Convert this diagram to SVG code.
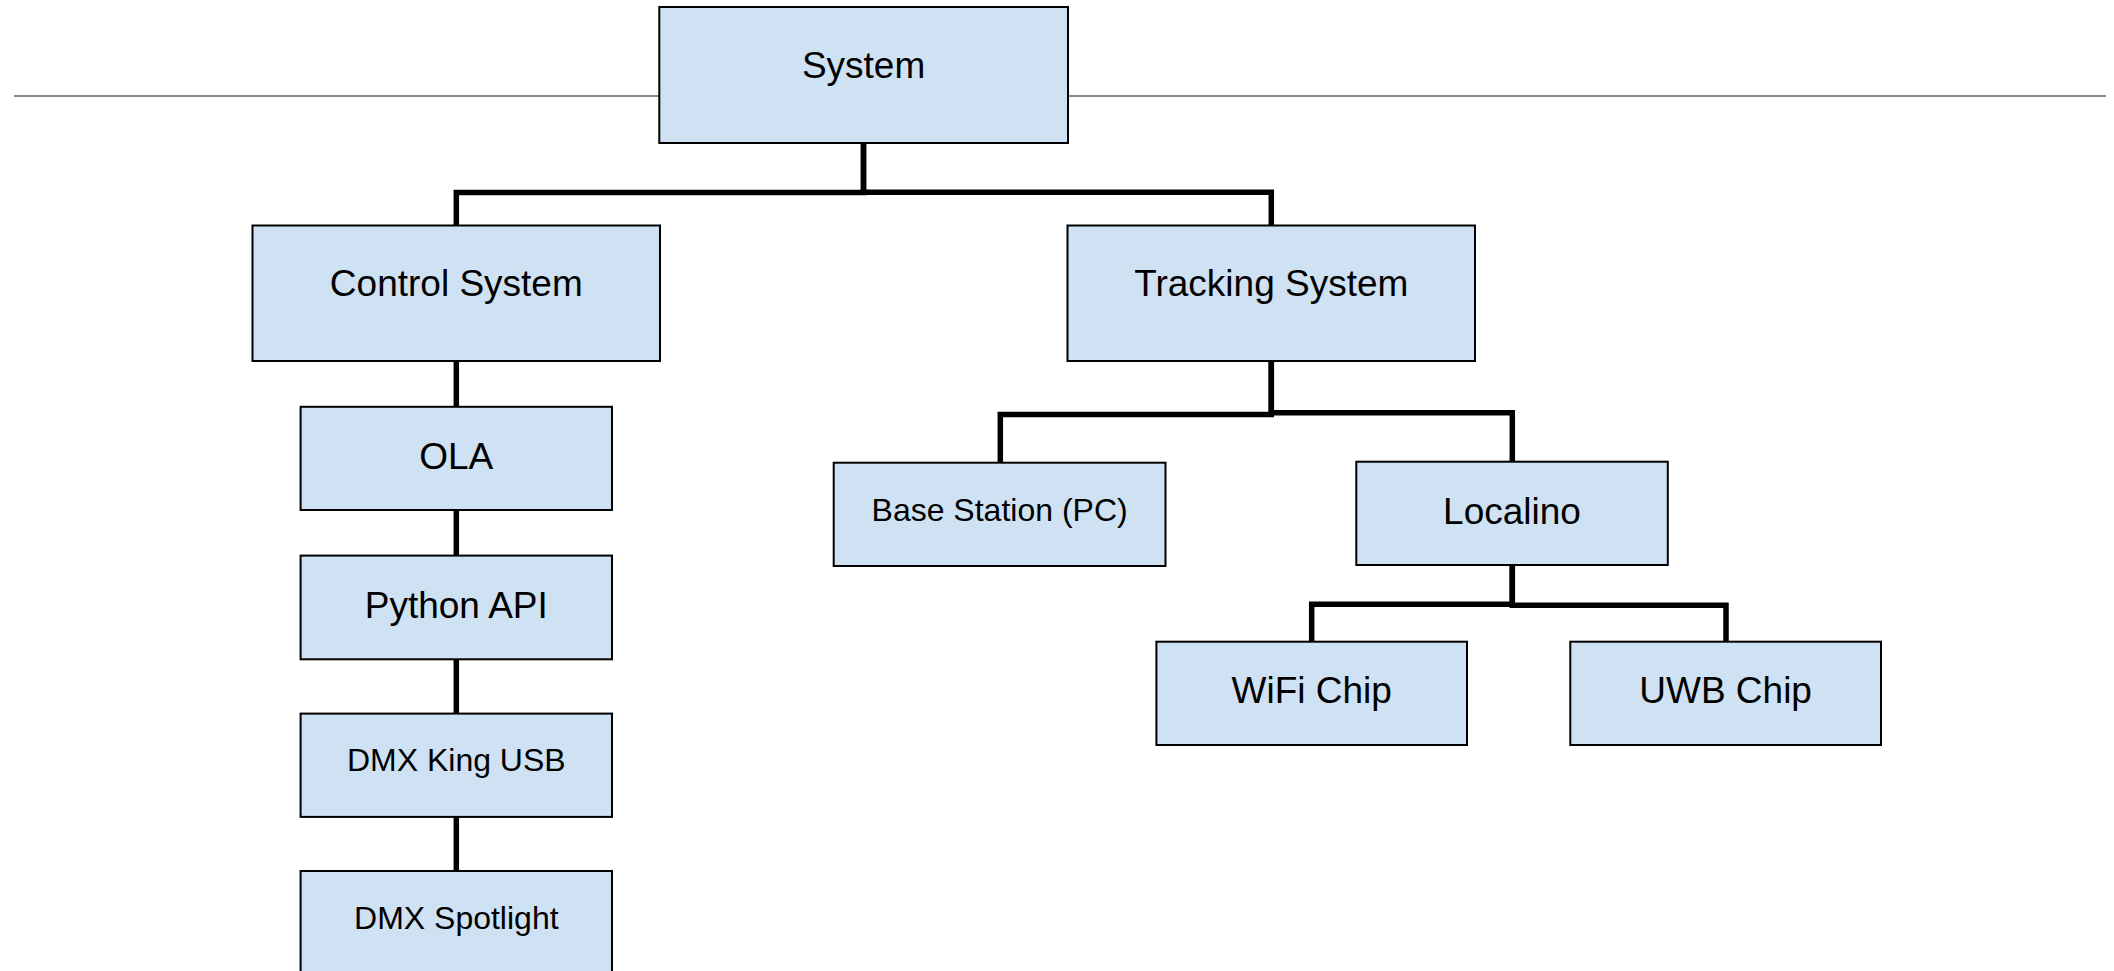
<svg xmlns="http://www.w3.org/2000/svg" width="2114" height="971" viewBox="0 0 2114 971">
<style>
.box{fill:#cfe2f3;stroke:#000;stroke-width:2}
.big{font-family:"Liberation Sans",Arial,sans-serif;font-size:37px;fill:#000;text-anchor:middle}
.small{font-family:"Liberation Sans",Arial,sans-serif;font-size:32px;fill:#000;text-anchor:middle}
.conn{fill:none;stroke:#000;stroke-width:5.5;stroke-linejoin:miter;stroke-linecap:butt}
</style>
<rect width="2114" height="971" fill="#fff"/>
<line id="divider" x1="14" y1="96" x2="2106" y2="96" stroke="#888" stroke-width="2"/>
<g id="connectors">
<path class="conn" d="M863.5 143 V192.5 H456.3 V225.5"/>
<path class="conn" d="M863.5 143 V192.3 H1271.3 V225.5"/>
<path class="conn" d="M456.3 361 V406.8"/>
<path class="conn" d="M456.3 510 V555.6"/>
<path class="conn" d="M456.3 659.3 V713.6"/>
<path class="conn" d="M456.3 816.9 V871"/>
<path class="conn" d="M1271.3 361 V414.5 H1000.3 V462.7"/>
<path class="conn" d="M1271.3 361 V412.8 H1512.3 V461.7"/>
<path class="conn" d="M1512.3 565 V604.3 H1311.7 V641.7"/>
<path class="conn" d="M1512.3 565 V605.3 H1726 V641.7"/>
</g>
<g id="system"><rect class="box" x="659.3" y="7" width="408.7" height="136"/><text class="big" x="863.6" y="78">System</text></g>
<g id="control-system"><rect class="box" x="252.5" y="225.5" width="407.5" height="135.5"/><text class="big" x="456.3" y="296">Control System</text></g>
<g id="tracking-system"><rect class="box" x="1067.5" y="225.5" width="407.5" height="135.5"/><text class="big" x="1271.3" y="296">Tracking System</text></g>
<g id="ola"><rect class="box" x="300.6" y="406.8" width="311.4" height="103.2"/><text class="big" x="456.3" y="469.3">OLA</text></g>
<g id="python-api"><rect class="box" x="300.6" y="555.6" width="311.4" height="103.7"/><text class="big" x="456.3" y="618.2">Python API</text></g>
<g id="dmx-king-usb"><rect class="box" x="300.6" y="713.6" width="311.4" height="103.3"/><text class="small" x="456.3" y="770.9">DMX King USB</text></g>
<g id="dmx-spotlight"><rect class="box" x="300.6" y="871" width="311.4" height="104"/><text class="small" x="456.3" y="929.2">DMX Spotlight</text></g>
<g id="base-station"><rect class="box" x="833.7" y="462.7" width="331.8" height="103.3"/><text class="small" x="999.6" y="520.7">Base Station (PC)</text></g>
<g id="localino"><rect class="box" x="1356.3" y="461.7" width="311.5" height="103.3"/><text class="big" x="1512" y="524">Localino</text></g>
<g id="wifi-chip"><rect class="box" x="1156.4" y="641.7" width="310.6" height="103.3"/><text class="big" x="1311.7" y="703.3">WiFi Chip</text></g>
<g id="uwb-chip"><rect class="box" x="1570.3" y="641.7" width="310.7" height="103.3"/><text class="big" x="1725.6" y="703.3">UWB Chip</text></g>
</svg>
